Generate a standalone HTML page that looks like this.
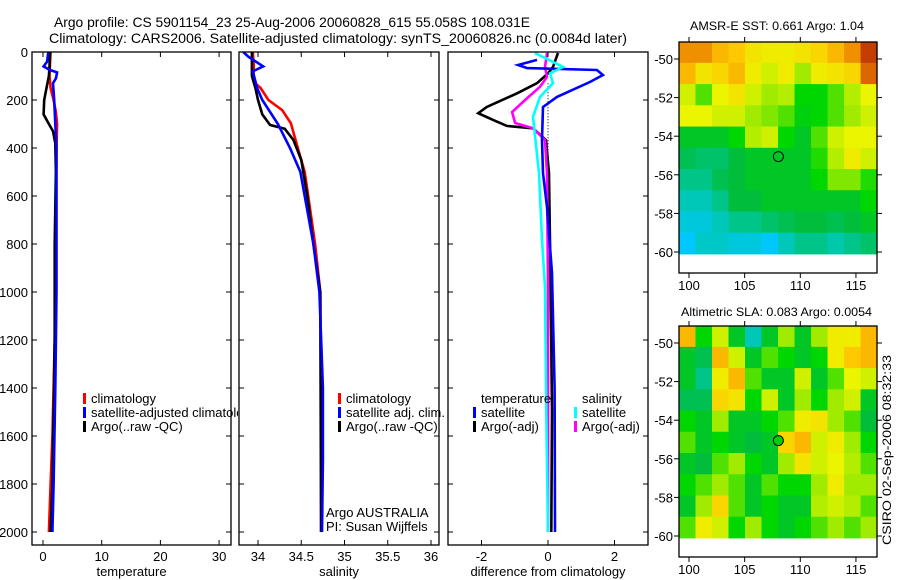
<!DOCTYPE html>
<html><head><meta charset="utf-8"><style>
html,body{margin:0;padding:0;background:#fff;}
svg{display:block;font-family:"Liberation Sans",sans-serif;}
</style></head><body>
<svg id="fig" width="900" height="580" viewBox="0 0 900 580">
<text x="54" y="27" font-size="14" textLength="476" lengthAdjust="spacingAndGlyphs">Argo profile: CS 5901154_23 25-Aug-2006 20060828_615 55.058S 108.031E</text>
<text x="49" y="43" font-size="14" textLength="578" lengthAdjust="spacingAndGlyphs">Climatology: CARS2006. Satellite-adjusted climatology: synTS_20060826.nc (0.0084d later)</text>
<text x="690" y="30" font-size="12" textLength="174" lengthAdjust="spacingAndGlyphs">AMSR-E SST: 0.661 Argo: 1.04</text>
<text x="681" y="316" font-size="12" textLength="191" lengthAdjust="spacingAndGlyphs">Altimetric SLA: 0.083 Argo: 0.0054</text>
<text transform="translate(891,545) rotate(-90)" font-size="12" textLength="190" lengthAdjust="spacingAndGlyphs">CSIRO 02-Sep-2006 08:32:33</text>
<g id="plots"></g>
</svg>
<script>
// ---------- data ----------
const depthTicks = [0,200,400,600,800,1000,1200,1400,1600,1800,2000];
const tempTicks = [0,10,20,30];
const salTicks = [34,34.5,35,35.5,36];
const diffTicks = [-2,0,2];
const lonTicks = [100,105,110,115];
const latTicks = [-50,-52,-54,-56,-58,-60];

const tClimDepth = [0,50,100,150,200,250,300,400,600,800,1000,1200,1400,1600,1800,2000];
const tClimVal   = [1.3,1.2,1.1,1.3,1.8,2.2,2.4,2.3,2.2,2.2,2.1,2.0,1.8,1.6,1.3,1.0];
const tSatDepth = [0,40,60,75,85,110,130,200,300,400,1000,1400,1800,2000];
const tSatVal   = [0.9,0.7,0.1,1.2,2.4,2.2,1.7,1.9,2.1,2.3,2.3,2.1,1.8,1.6];
const tArgoDepth = [0,60,100,150,200,260,300,330,380,500,800,1000,1200,1500,1800,2000];
const tArgoVal   = [1.2,1.1,1.0,0.6,0.2,0.1,1.0,1.7,2.1,2.2,2.0,2.0,2.0,1.8,1.6,1.3];

const sClimDepth = [0,50,125,150,200,242,297,400,500,600,800,1000,1400,2000];
const sClimVal   = [33.94,33.95,33.95,34.03,34.12,34.28,34.38,34.46,34.54,34.58,34.66,34.72,34.73,34.73];
const sSatDepth = [0,20,60,80,150,200,300,400,500,600,800,1000,1400,1700,2000];
const sSatVal   = [33.83,33.89,34.06,33.94,33.99,34.05,34.23,34.37,34.49,34.54,34.64,34.71,34.75,34.75,34.74];
const sArgoDepth = [0,100,150,200,260,304,320,367,450,600,800,1000,2000];
const sArgoVal   = [33.93,33.93,33.97,34.0,34.05,34.14,34.31,34.41,34.5,34.57,34.64,34.72,34.73];

const dTSatDepth = [33,54,67,75,96,125,187,229,367,505,645,922,1400,2000];
const dTSatVal   = [-0.33,-0.9,-0.63,1.47,1.65,1.26,0.27,-0.15,-0.18,-0.15,-0.03,0.12,0.2,0.21];
const dTArgoDepth = [4,62,89,130,172,229,255,283,308,318,367,505,1000,1500,2000];
const dTArgoVal   = [0.3,0.15,0,-0.33,-0.93,-1.84,-2.1,-1.65,-1.24,-0.45,-0.06,0.03,0.08,0.12,0.1];
const dSSatDepth = [4,62,89,130,187,270,505,783,980,1500,2000];
const dSSatVal   = [-0.39,0.45,0.06,0.15,-0.24,-0.45,-0.27,-0.18,-0.09,-0.05,0.0];
const dSArgoDepth = [4,62,104,145,200,250,296,318,367,505,1000,2000];
const dSArgoVal   = [-0.03,-0.09,-0.03,-0.24,-0.69,-1.08,-0.99,-0.45,-0.09,-0.03,0.0,0.0];

// map grids (12 cols x 10 rows, top=north), normalized colour value 0..1
const sstGrid = [
[.85,.85,.8,.78,.72,.7,.7,.72,.75,.8,.85,.95],
[.8,.72,.75,.8,.7,.65,.7,.6,.7,.72,.75,.9],
[.65,.55,.68,.72,.65,.6,.62,.5,.5,.55,.62,.68],
[.68,.68,.65,.65,.6,.58,.55,.48,.5,.55,.6,.65],
[.45,.45,.45,.5,.62,.65,.5,.45,.55,.65,.68,.68],
[.4,.38,.38,.42,.45,.45,.45,.45,.52,.62,.7,.65],
[.35,.35,.4,.42,.45,.45,.45,.45,.5,.58,.58,.52],
[.3,.3,.35,.42,.42,.45,.45,.45,.45,.45,.45,.5],
[.25,.25,.3,.35,.35,.38,.4,.42,.42,.4,.42,.45],
[.2,.28,.28,.25,.25,.2,.3,.35,.35,.32,.35,.38]];
const slaGrid = [
[.8,.5,.65,.45,.3,.45,.6,.45,.6,.7,.7,.8],
[.45,.4,.8,.65,.45,.55,.5,.45,.5,.7,.78,.8],
[.45,.35,.7,.8,.55,.45,.45,.65,.45,.55,.68,.65],
[.4,.4,.75,.72,.5,.65,.45,.6,.5,.6,.65,.45],
[.5,.45,.6,.45,.45,.5,.55,.7,.72,.6,.55,.42],
[.55,.45,.5,.45,.42,.45,.75,.8,.65,.7,.6,.5],
[.45,.42,.55,.6,.5,.45,.6,.72,.65,.68,.62,.55],
[.5,.55,.6,.55,.45,.55,.5,.5,.6,.7,.6,.6],
[.45,.6,.75,.55,.45,.5,.45,.45,.62,.65,.62,.55],
[.55,.7,.65,.5,.6,.5,.45,.5,.55,.6,.55,.6]];
const argoLon = 108.031, argoLat = -55.058;

// ---------- helpers ----------
const NS='http://www.w3.org/2000/svg';
const root=document.getElementById('plots');
function mk(tag,attrs,parent){const e=document.createElementNS(NS,tag);for(const k in attrs)e.setAttribute(k,attrs[k]);(parent||root).appendChild(e);return e;}
const yD = d => 52 + d*0.24;

function profilePanel(name,x0,x1,xs,ticks,label,yLabels){
  const g=mk('g',{});
  
  
  const cid='clip-'+name;
  const cp=mk('clipPath',{id:cid},g); mk('rect',{x:x0,y:52,width:x1-x0,height:493},cp);
  const inner=mk('g',{'clip-path':'url(#'+cid+')'},g);
  const frame=mk('rect',{x:x0,y:52,width:x1-x0,height:493,fill:'none',stroke:'#000','stroke-width':1.3},g);
  
  
  depthTicks.forEach(d=>{
    mk('line',{x1:x0,x2:x0+5,y1:yD(d),y2:yD(d),stroke:'#000'},g);
    mk('line',{x1:x1-5,x2:x1,y1:yD(d),y2:yD(d),stroke:'#000'},g);
    if(yLabels){const t=mk('text',{x:28,y:yD(d)+5,'font-size':13,'text-anchor':'end'},g);t.textContent=d;
      
      }
  });
  ticks.forEach(v=>{
    const x=xs(v);
    mk('line',{x1:x,x2:x,y1:52,y2:57,stroke:'#000'},g);
    mk('line',{x1:x,x2:x,y1:540,y2:545,stroke:'#000'},g);
    const t=mk('text',{x:x,y:561,'font-size':13,'text-anchor':'middle'},g);t.textContent=v;
    
    
  });
  const xl=mk('text',{x:(x0+x1)/2,y:576,'font-size':13,'text-anchor':'middle'},g);xl.textContent=label;
  
  
  return inner;
}
function series(parent,name,depths,vals,xs,color,w){
  const pts=depths.map((d,i)=>xs(vals[i]).toFixed(1)+','+yD(d).toFixed(1)).join(' ');
  const p=mk('polyline',{points:pts,fill:'none',stroke:color,'stroke-width':w||2.6,'stroke-linejoin':'miter'},parent);
  
  
}
function legend(parent,x,y,items){
  items.forEach((it,i)=>{
    const yy=y+i*14;
    const b=mk('rect',{x:x,y:yy-10,width:3,height:11,fill:it[1]},parent);
    
    
    const t=mk('text',{x:x+8,y:yy,'font-size':13},parent);t.textContent=it[0];
    
    
  });
}

// ---------- temperature ----------
const xT = v => 43 + v*5.87;
const pT = profilePanel('temperature',32,231,xT,tempTicks,'temperature',true);
series(pT,'temp-climatology-line',tClimDepth,tClimVal,xT,'#f00');
series(pT,'temp-argo-line',tArgoDepth,tArgoVal,xT,'#000');
series(pT,'temp-satellite-line',tSatDepth,tSatVal,xT,'#00f');
const lgT=mk('g',{'clip-path':'url(#clip-leg1)'});
const cl1=mk('clipPath',{id:'clip-leg1'}); mk('rect',{x:32,y:380,width:206,height:60},cl1);
legend(lgT,83,403,[['climatology','#f00','climatology'],['satellite-adjusted climatology','#00f','satellite'],['Argo(..raw -QC)','#000','argo']]);

// ---------- salinity ----------
const xS = v => 258 + (v-34)*86.5;
const pS = profilePanel('salinity',239,439,xS,salTicks,'salinity',false);
series(pS,'sal-climatology-line',sClimDepth,sClimVal,xS,'#f00');
series(pS,'sal-argo-line',sArgoDepth,sArgoVal,xS,'#000');
series(pS,'sal-satellite-line',sSatDepth,sSatVal,xS,'#00f');
legend(root,338,403,[['climatology','#f00','sal-climatology'],['satellite adj. clim.','#00f','sal-satellite'],['Argo(..raw -QC)','#000','sal-argo']]);
[['Argo AUSTRALIA',517],['PI: Susan Wijffels',531]].forEach(a=>{const t=mk('text',{x:326,y:a[1],'font-size':13});t.textContent=a[0];
  
  });

// ---------- difference ----------
const xDf = v => 548 + v*33.25;
const pD = profilePanel('difference',448,648,xDf,diffTicks,'difference from climatology',false);
mk('line',{x1:xDf(0),x2:xDf(0),y1:yD(130),y2:yD(2000),stroke:'#000','stroke-dasharray':'1,2'},pD);
series(pD,'diff-temp-argo-line',dTArgoDepth,dTArgoVal,xDf,'#000');
series(pD,'diff-sal-argo-line',dSArgoDepth,dSArgoVal,xDf,'#f0f');
series(pD,'diff-temp-satellite-line',dTSatDepth,dTSatVal,xDf,'#00f');
series(pD,'diff-sal-satellite-line',dSSatDepth,dSSatVal,xDf,'#0ff');
const th=mk('text',{x:481,y:403,'font-size':13});th.textContent='temperature';

const sh=mk('text',{x:582,y:403,'font-size':13});sh.textContent='salinity';

legend(root,473,417,[['satellite','#00f','diff-temp-sat'],['Argo(-adj)','#000','diff-temp-argo']]);
legend(root,574,417,[['satellite','#0ff','diff-sal-sat'],['Argo(-adj)','#f0f','diff-sal-argo']]);

// ---------- maps ----------
function cmap(v){
  const stops=[[0,[0,80,255]],[0.2,[0,200,255]],[0.32,[0,200,170]],[0.42,[0,190,60]],[0.5,[0,215,0]],[0.6,[160,235,0]],[0.68,[235,245,0]],[0.78,[255,200,0]],[0.88,[230,120,0]],[1,[170,20,0]]];
  for(let i=1;i<stops.length;i++){if(v<=stops[i][0]){const a=stops[i-1],b=stops[i],f=(v-a[0])/(b[0]-a[0]);
    return 'rgb('+a[1].map((c,k)=>Math.round(c+(b[1][k]-c)*f)).join(',')+')';}}
  return 'rgb(170,20,0)';
}
function mapPanel(name,top,grid,filled){
  const g=mk('g',{});
  
  
  const left=679,right=877,bottom=top+231;
  const lonX = lon => 689 + (lon-100)*11.13;
  const latY = lat => top+17 + (-50-lat)*19.3;
  const lon0=99.1, lon1=116.9, lat0=-49.1, lat1=-60.1;
  const nr=grid.length,nc=grid[0].length;
  for(let r=0;r<nr;r++)for(let c=0;c<nc;c++){
    const la=lat0+(lat1-lat0)*r/nr, lb=lat0+(lat1-lat0)*(r+1)/nr;
    const xa=lon0+(lon1-lon0)*c/nc, xb=lon0+(lon1-lon0)*(c+1)/nc;
    const cell=mk('rect',{x:lonX(xa),y:latY(la),width:lonX(xb)-lonX(xa)+0.5,height:latY(lb)-latY(la)+0.5,fill:cmap(grid[r][c])},g);
    
    
  }
  mk('rect',{x:left,y:top,width:right-left,height:bottom-top,fill:'none',stroke:'#000','stroke-width':1.3},g);
  lonTicks.forEach(l=>{const x=lonX(l);
    mk('line',{x1:x,x2:x,y1:top-5,y2:top,stroke:'#000'},g);
    mk('line',{x1:x,x2:x,y1:bottom,y2:bottom+5,stroke:'#000'},g);
    const t=mk('text',{x:x,y:bottom+17,'font-size':13,'text-anchor':'middle'},g);t.textContent=l;
    
    });
  latTicks.forEach(l=>{const y=latY(l);
    mk('line',{x1:left-5,x2:left,y1:y,y2:y,stroke:'#000'},g);
    mk('line',{x1:right,x2:right+5,y1:y,y2:y,stroke:'#000'},g);
    const t=mk('text',{x:673,y:y+5,'font-size':13,'text-anchor':'end'},g);t.textContent=l;
    
    });
  const m=mk('circle',{cx:lonX(argoLon),cy:latY(argoLat),r:5,fill:filled?'#00d000':'none',stroke:'#000','stroke-width':1},g);
  
  
}
mapPanel('sst',42,sstGrid,false);
mapPanel('sla',326,slaGrid,true);
</script>
</body></html>
